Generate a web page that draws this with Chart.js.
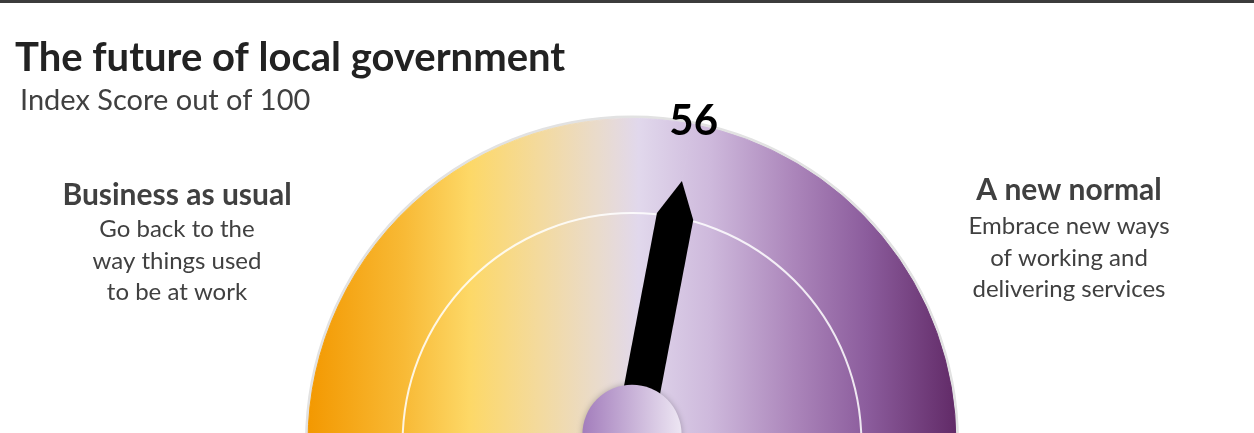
<!DOCTYPE html>
<html>
<head>
<meta charset="utf-8">
<title>The future of local government</title>
<script src="https://cdn.jsdelivr.net/npm/chart.js@4.4.1/dist/chart.umd.min.js"></script>
<style>
  html, body { margin: 0; padding: 0; background: #fff; overflow: hidden; }
  #wrap { position: relative; width: 1254px; height: 433px; overflow: hidden; }
  #topbar { position: absolute; left: 0; top: 0; width: 100%; height: 3px; background: #3c3c3c; z-index: 2; }
  #gauge { position: absolute; left: 0; top: 0; }
</style>
</head>
<body>
<div id="wrap">
  <div id="topbar"></div>
  <canvas id="gauge" width="1254" height="453"></canvas>
</div>
<script>
// ---------- dados ----------
const segmentLabels = ['Index score', 'Remaining'];
const scoreRange = [0, 100];
const indexScore = [56];

const chartTitle = ['The future of local government'];
const chartSubtitle = ['Index Score out of 100'];
const leftNote = ['Business as usual', 'Go back to the', 'way things used', 'to be at work'];
const rightNote = ['A new normal', 'Embrace new ways', 'of working and', 'delivering services'];

// cores do arco, da esquerda (laranja) para a direita (roxo)
const arcStops = [
  [0.00, '#F39800'],
  [0.15, '#F8BA36'],
  [0.25, '#FDD867'],
  [0.36, '#F3DA9F'],
  [0.45, '#E9DBCD'],
  [0.51, '#E1D8EC'],
  [0.62, '#CEB9DC'],
  [0.75, '#AB85BA'],
  [0.86, '#8C5D9D'],
  [1.00, '#612A67']
];

function arcGradient(context) {
  const chart = context.chart;
  const area = chart.chartArea;
  if (!area) return '#E1D8EC';
  const g = chart.ctx.createLinearGradient(area.left, 0, area.right, 0);
  arcStops.forEach(([p, c]) => g.addColorStop(p, c));
  return g;
}

// ---------- textos, ponteiro e miolo ----------
const gaugeDecor = {
  id: 'gaugeDecor',
  beforeDatasetsDraw(chart) {
    const arc = chart.getDatasetMeta(0).data[0];
    const ctx = chart.ctx;
    ctx.save();
    ctx.beginPath();
    ctx.arc(arc.x, arc.y, arc.outerRadius + 1.5, Math.PI, 2 * Math.PI);
    ctx.lineWidth = 3;
    ctx.strokeStyle = '#E2E2E2';
    ctx.stroke();
    ctx.restore();
  },
  afterDatasetsDraw(chart) {
    const arc = chart.getDatasetMeta(0).data[0];
    const ctx = chart.ctx;
    const cx = arc.x, cy = arc.y, R = arc.outerRadius;

    ctx.save();

    // anel interno
    ctx.beginPath();
    ctx.arc(cx, cy, R * 0.708, Math.PI, 2 * Math.PI);
    ctx.lineWidth = 2;
    ctx.strokeStyle = 'rgba(255,255,255,0.85)';
    ctx.stroke();

    // ponteiro: segue o fim do primeiro segmento
    const a = arc.endAngle;
    const ux = Math.cos(a), uy = Math.sin(a);
    const vx = -uy, vy = ux;
    const pt = (d, w) => [cx + ux * d + vx * w, cy + uy * d + vy * w];
    const hw = R * 0.057;
    const pts = [pt(0, -hw), pt(R * 0.71, -hw), pt(R * 0.822, 0), pt(R * 0.71, hw), pt(0, hw)];
    ctx.beginPath();
    pts.forEach(([x, y], i) => (i ? ctx.lineTo(x, y) : ctx.moveTo(x, y)));
    ctx.closePath();
    ctx.fillStyle = '#000';
    ctx.fill();

    // miolo
    const hubR = R * 0.153;
    const hubY = cy - R * 0.025;
    const hg = ctx.createLinearGradient(cx - hubR, 0, cx + hubR, 0);
    hg.addColorStop(0, '#A37DBC');
    hg.addColorStop(1, '#EDE6F3');
    ctx.beginPath();
    ctx.arc(cx, hubY, hubR, 0, 2 * Math.PI);
    ctx.shadowColor = 'rgba(0,0,0,0.25)';
    ctx.shadowBlur = 6;
    ctx.fillStyle = hg;
    ctx.fill();
    ctx.shadowColor = 'transparent';

    // valor acima do arco
    ctx.fillStyle = '#000';
    ctx.font = 'bold 42px Lato';
    ctx.textAlign = 'center';
    ctx.fillText(String(indexScore[0]), cx + R * ux + 1, cy - R + 16);

    // titulo e subtitulo
    ctx.textAlign = 'left';
    ctx.fillStyle = '#222';
    ctx.font = 'bold 40px Lato';
    ctx.fillText(chartTitle[0], 15, 71);
    ctx.fillStyle = '#404040';
    ctx.font = '29px Lato';
    ctx.fillText(chartSubtitle[0], 20, 110);

    // notas laterais
    const notes = [[leftNote, 177, 205, [237, 269, 300]], [rightNote, 1069, 200, [234, 266, 297]]];
    ctx.textAlign = 'center';
    notes.forEach(([lines, x, yHead, yBody]) => {
      ctx.font = 'bold 30px Lato';
      ctx.fillText(lines[0], x, yHead);
      ctx.font = '24px Lato';
      lines.slice(1).forEach((txt, i) => ctx.fillText(txt, x, yBody[i]));
    });

    ctx.restore();
  }
};

new Chart(document.getElementById('gauge'), {
  type: 'doughnut',
  data: {
    labels: segmentLabels,
    datasets: [{
      data: [indexScore[0] - scoreRange[0], scoreRange[1] - indexScore[0]],
      backgroundColor: arcGradient,
      borderColor: arcGradient,
      borderWidth: 1
    }]
  },
  options: {
    responsive: false,
    animation: false,
    rotation: -90,
    circumference: 180,
    cutout: 0,
    layout: { padding: { top: 118, left: 307, right: 297, bottom: 10 } },
    plugins: {
      legend: { display: false },
      tooltip: { enabled: false }
    }
  },
  plugins: [gaugeDecor]
});
</script>
</body>
</html>
